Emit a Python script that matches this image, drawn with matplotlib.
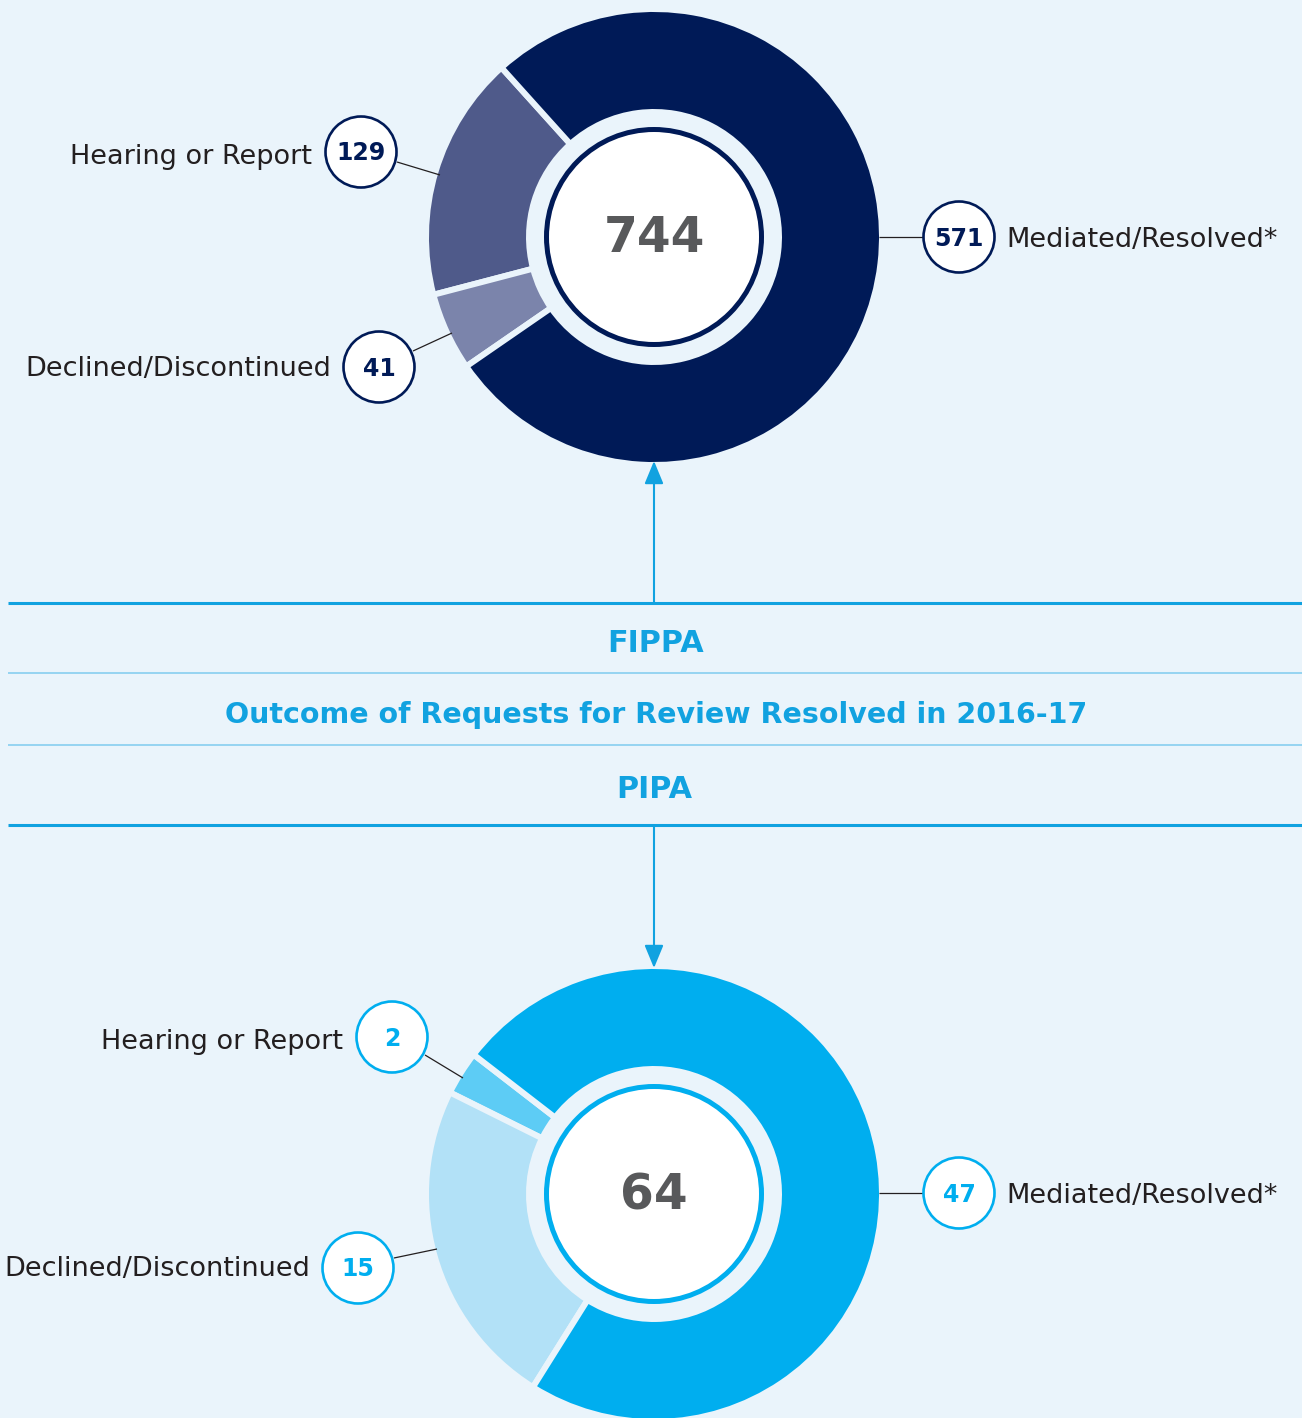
import matplotlib
matplotlib.use("Agg")
import matplotlib.pyplot as plt
from matplotlib.patches import Circle, FancyArrowPatch

# ---------------- data ----------------
categories = ["Hearing or Report", "Declined/Discontinued", "Mediated/Resolved*"]
fippa_values = [129, 41, 571]
fippa_total = 744
pipa_values = [2, 15, 47]
pipa_total = 64
section_titles = ["FIPPA", "Outcome of Requests for Review Resolved in 2016-17", "PIPA"]

# ---------------- style ----------------
BG = "#EAF4FB"
fippa_colors = ["#4F5A8A", "#7B84AB", "#001A57"]
pipa_colors = ["#5DCCF5", "#B2E1F7", "#00AEEF"]
fippa_accent = "#001A57"
pipa_accent = "#00AEEF"
TITLE_C = "#11A2E0"
TEXT_C = "#231F20"
CENTER_C = "#58595B"
FONT = ["DejaVu Sans"]

W, H = 1302, 1418
fig = plt.figure(figsize=(W / 100, H / 100), dpi=100, facecolor=BG)
ax = fig.add_axes([0, 0, 1, 1])
ax.set_facecolor(BG)


def Y(y):
    return H - y


def donut(values, colors, accent, total, cy, startangle, labels_pos):
    cx = 654
    R_out, R_in = 228, 125
    ax.pie(values, colors=colors, startangle=startangle, counterclock=True,
           radius=R_out, center=(cx, Y(cy)), frame=True,
           wedgeprops=dict(width=R_out - R_in, edgecolor=BG, linewidth=4.3))
    ax.add_patch(Circle((cx, Y(cy)), 107.5, facecolor="white", edgecolor=accent,
                        linewidth=3.6, zorder=3))
    ax.text(cx, Y(labels_pos["center_base"]), f"{total}", ha="center", va="baseline",
            fontsize=35, fontweight="bold", color=CENTER_C, family=FONT, zorder=4)
    for (val, name, (ccx, ccy), line, (tx, tbase, ha)) in labels_pos["items"]:
        (x0, y0), (x1, y1) = line
        ax.plot([x0, x1], [Y(y0), Y(y1)], color=TEXT_C, lw=0.9, zorder=2,
                solid_capstyle="butt")
        ax.add_patch(Circle((ccx, Y(ccy)), 35.5, facecolor="white", edgecolor=accent,
                            linewidth=1.9, zorder=5))
        ax.text(ccx, Y(ccy + 8.5), f"{val}", ha="center", va="baseline", fontsize=17,
                fontweight="bold", color=accent, family=FONT, zorder=6)
        ax.text(tx, Y(tbase), name, ha=ha, va="baseline", fontsize=19.5,
                color=TEXT_C, family=FONT, zorder=6)


donut(fippa_values, fippa_colors, fippa_accent, fippa_total, 237, 132,
      {"center_base": 252,
       "items": [
           (fippa_values[0], categories[0], (361, 152), ((397, 162), (440, 175)), (312, 164, "right")),
           (fippa_values[1], categories[1], (379, 367), ((413, 351), (452, 333)), (331, 376, "right")),
           (fippa_values[2], categories[2], (959, 237), ((879, 237), (923, 237)), (1006, 247, "left")),
       ]})

donut(pipa_values, pipa_colors, pipa_accent, pipa_total, 1194, 142.3,
      {"center_base": 1210,
       "items": [
           (pipa_values[0], categories[0], (392, 1037), ((425, 1055), (463, 1078)), (343, 1049, "right")),
           (pipa_values[1], categories[1], (358, 1268), ((394, 1258), (437, 1249)), (310, 1276, "right")),
           (pipa_values[2], categories[2], (959, 1193), ((879, 1193), (923, 1193)), (1006, 1203, "left")),
       ]})

# ---------------- middle band ----------------
ax.plot([8, W], [Y(603), Y(603)], color=TITLE_C, lw=2.2, solid_capstyle="butt", zorder=2)
ax.plot([8, W], [Y(825), Y(825)], color=TITLE_C, lw=2.2, solid_capstyle="butt", zorder=2)
ax.plot([8, W], [Y(673), Y(673)], color="#7ECBEE", lw=1.1, solid_capstyle="butt", zorder=2)
ax.plot([8, W], [Y(745), Y(745)], color="#7ECBEE", lw=1.1, solid_capstyle="butt", zorder=2)

ax.text(656, Y(652), section_titles[0], ha="center", va="baseline", fontsize=21.8,
        fontweight="bold", color=TITLE_C, family=FONT)
ax.text(656, Y(723), section_titles[1], ha="center", va="baseline", fontsize=20.5,
        fontweight="bold", color=TITLE_C, family=FONT)
ax.text(654, Y(798), section_titles[2], ha="center", va="baseline", fontsize=21.8,
        fontweight="bold", color=TITLE_C, family=FONT)

for (y0, y1) in [(603, 461), (825, 968)]:
    ax.add_patch(FancyArrowPatch((654, Y(y0)), (654, Y(y1)),
                                 arrowstyle="-|>,head_length=7,head_width=2.9",
                                 mutation_scale=2.0, color=TITLE_C, lw=1.5,
                                 shrinkA=0, shrinkB=0, zorder=2))

ax.set_xlim(0, W)
ax.set_ylim(0, H)
ax.set_aspect("auto")
ax.axis("off")

fig.savefig("out.png", dpi=100, facecolor=BG)
